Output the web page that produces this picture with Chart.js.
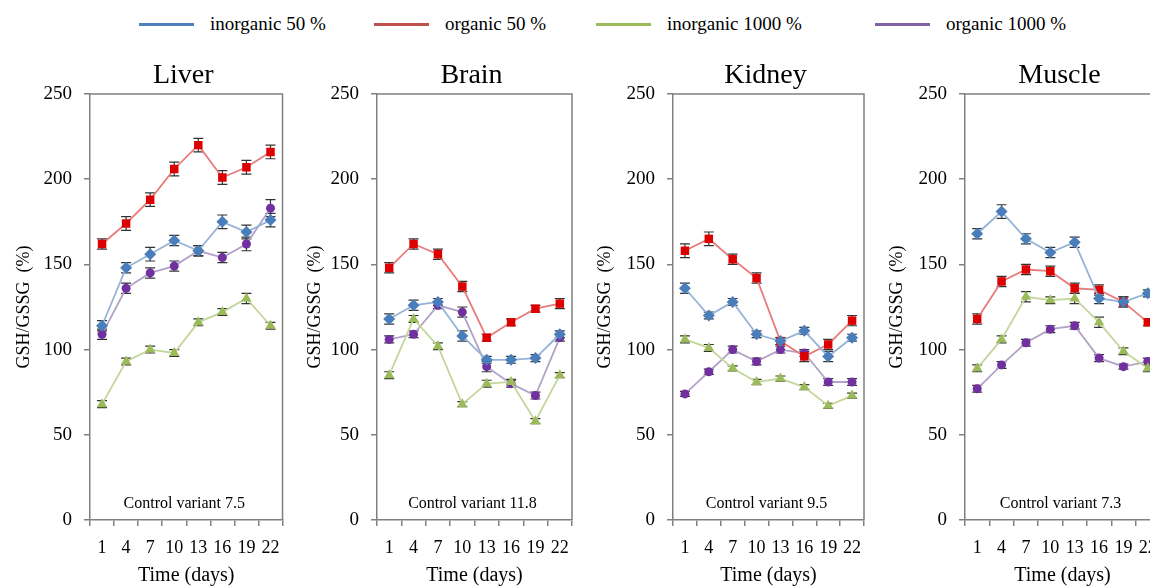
<!DOCTYPE html>
<html>
<head>
<meta charset="utf-8">
<script src="https://cdn.jsdelivr.net/npm/chart.js@4/dist/chart.umd.min.js"></script>
<style>
  html, body { margin: 0; padding: 0; background: #fff; }
  #wrap { position: relative; width: 1150px; height: 587px; overflow: hidden; background: #fff; }
  #wrap canvas { position: absolute; top: 0; }
  .leg { position: absolute; top: 12px; height: 24px; display: flex; align-items: center;
         font-family: "Liberation Serif", "Times New Roman", serif; font-size: 19px; color: #000; white-space: nowrap; }
  .leg span.sw { display: inline-block; width: 55px; height: 3px; margin-right: 16px; }
</style>
</head>
<body>
<div id="wrap"></div>
<script>
/* ================= DATA ================= */
const days = ["1", "4", "7", "10", "13", "16", "19", "22"];
const seriesNames = ["inorganic 50 %", "organic 50 %", "inorganic 1000 %", "organic 1000 %"];
const panelTitles = ["Liver", "Brain", "Kidney", "Muscle"];
const controlNotes = ["Control variant 7.5", "Control variant 11.8", "Control variant 9.5", "Control variant 7.3"];
const yTitle = "GSH/GSSG  (%)";
const xTitle = "Time (days)";

// Liver
const liverInorg50   = [114, 148, 156, 164, 158, 175, 169, 176];
const liverOrg50     = [162, 174, 188, 206, 220, 201, 207, 216];
const liverInorg1000 = [68, 93, 100, 98, 116, 122, 130, 114];
const liverOrg1000   = [109, 136, 145, 149, 158, 154, 162, 183];
const liverErrInorg50   = [3, 3, 4, 3, 3, 4, 4, 4];
const liverErrOrg50     = [3, 4, 4, 4, 4, 4, 4, 4];
const liverErrInorg1000 = [2, 2, 2, 2, 2, 2, 3, 2];
const liverErrOrg1000   = [3, 3, 3, 3, 3, 3, 4, 5];

// Brain
const brainInorg50   = [118, 126, 128, 108, 94, 94, 95, 109];
const brainOrg50     = [148, 162, 156, 137, 107, 116, 124, 127];
const brainInorg1000 = [85, 118, 102, 68, 80, 81, 58, 85];
const brainOrg1000   = [106, 109, 126, 122, 90, 80, 73, 107];
const brainErrInorg50   = [3, 3, 2, 3, 2, 2, 2, 2];
const brainErrOrg50     = [3, 3, 3, 3, 2, 2, 2, 3];
const brainErrInorg1000 = [2, 2, 2, 1.5, 2, 1.5, 1.5, 1.5];
const brainErrOrg1000   = [2, 2, 2, 3, 3, 2, 2, 2];

// Kidney
const kidneyInorg50   = [136, 120, 128, 109, 105, 111, 96, 107];
const kidneyOrg50     = [158, 165, 153, 142, 105, 96, 103, 117];
const kidneyInorg1000 = [106, 101, 89, 81, 83, 78, 67, 73];
const kidneyOrg1000   = [74, 87, 100, 93, 100, 98, 81, 81];
const kidneyErrInorg50   = [3, 2, 2, 2, 2, 2, 3, 2];
const kidneyErrOrg50     = [4, 4, 3, 3, 2, 3, 3, 3];
const kidneyErrInorg1000 = [2, 2, 1.5, 1.5, 1.5, 1.5, 1.5, 1.5];
const kidneyErrOrg1000   = [1.5, 1.5, 2, 2, 2, 2, 2, 2];

// Muscle
const muscleInorg50   = [168, 181, 165, 157, 163, 130, 128, 133];
const muscleOrg50     = [118, 140, 147, 146, 136, 135, 128, 116];
const muscleInorg1000 = [89, 106, 131, 129, 130, 116, 99, 89];
const muscleOrg1000   = [77, 91, 104, 112, 114, 95, 90, 93];
const muscleErrInorg50   = [3, 4, 3, 3, 3, 3, 3, 2];
const muscleErrOrg50     = [3, 3, 3, 3, 3, 3, 3, 2];
const muscleErrInorg1000 = [2, 2, 3, 2, 3, 3, 2, 2];
const muscleErrOrg1000   = [2, 2, 2, 2, 2, 2, 1.5, 2];

/* ================= STYLE ================= */
const SERIF = '"Liberation Serif", "Times New Roman", serif';
const AXIS = "#808080";
const legendColors = ["#4f81bd", "#c0504d", "#9bbb59", "#8064a2"];
const lineColors   = ["#95b3d7", "#e87c7c", "#c3d69b", "#b3a2c7"];
const markColors   = ["#4a7ebb", "#dd0000", "#9bbb59", "#7030a0"];
const markStyles   = ["rectRot", "rect", "triangle", "circle"];
const markRadius   = [6, 6, 6, 4.5];

// canvas placement: [left, width, yAxisWidth, rightPad]
const panelBoxes = [
    [0, 291, 90, 8],
    [291, 290, 86, 9],
    [581, 292, 92, 9],
    [873, 297, 92, 10]
];

const panelData = [
    [liverInorg50, liverOrg50, liverInorg1000, liverOrg1000],
    [brainInorg50, brainOrg50, brainInorg1000, brainOrg1000],
    [kidneyInorg50, kidneyOrg50, kidneyInorg1000, kidneyOrg1000],
    [muscleInorg50, muscleOrg50, muscleInorg1000, muscleOrg1000]
];
const panelErr = [
    [liverErrInorg50, liverErrOrg50, liverErrInorg1000, liverErrOrg1000],
    [brainErrInorg50, brainErrOrg50, brainErrInorg1000, brainErrOrg1000],
    [kidneyErrInorg50, kidneyErrOrg50, kidneyErrInorg1000, kidneyErrOrg1000],
    [muscleErrInorg50, muscleErrOrg50, muscleErrInorg1000, muscleErrOrg1000]
];

/* ================= PLUGINS ================= */
const errorBars = {
    id: "errorBars",
    beforeDatasetsDraw(chart) {
        const ctx = chart.ctx;
        const y = chart.scales.y;
        ctx.save();
        ctx.strokeStyle = "#333";
        ctx.lineWidth = 1.2;
        chart.data.datasets.forEach((ds, di) => {
            const meta = chart.getDatasetMeta(di);
            meta.data.forEach((pt, i) => {
                const e = ds.err[i];
                const yt = y.getPixelForValue(ds.data[i] + e);
                const yb = y.getPixelForValue(ds.data[i] - e);
                ctx.beginPath();
                ctx.moveTo(pt.x, yt); ctx.lineTo(pt.x, yb);
                ctx.moveTo(pt.x - 5, yt); ctx.lineTo(pt.x + 5, yt);
                ctx.moveTo(pt.x - 5, yb); ctx.lineTo(pt.x + 5, yb);
                ctx.stroke();
            });
        });
        ctx.restore();
    }
};

const frameAndText = {
    id: "frameAndText",
    afterDraw(chart, args, opts) {
        const { ctx, chartArea: a } = chart;
        ctx.save();
        ctx.strokeStyle = AXIS;
        ctx.lineWidth = 1.5;
        ctx.beginPath();
        ctx.moveTo(a.left, a.top); ctx.lineTo(a.right, a.top); ctx.lineTo(a.right, a.bottom);
        ctx.stroke();
        const cx = (a.left + a.right) / 2;
        ctx.fillStyle = "#000";
        ctx.textAlign = "center";
        ctx.textBaseline = "alphabetic";
        ctx.font = "28px " + SERIF;
        ctx.fillText(opts.title, cx - 3, 83);
        ctx.font = "16px " + SERIF;
        ctx.fillText(opts.note, cx - 2, 508);
        ctx.restore();
    }
};

/* ================= LEGEND ================= */
const wrap = document.getElementById("wrap");
const legendLefts = [139, 374, 596, 875];
seriesNames.forEach((name, i) => {
    const d = document.createElement("div");
    d.className = "leg";
    d.style.left = legendLefts[i] + "px";
    d.innerHTML = '<span class="sw" style="background:' + legendColors[i] + '"></span>' + name;
    wrap.appendChild(d);
});

/* ================= PANELS ================= */
function drawPanel(p) {
    const [left, width, yW, padR] = panelBoxes[p];
    const cv = document.createElement("canvas");
    cv.width = width; cv.height = 587;
    cv.style.left = left + "px";
    cv.style.width = width + "px"; cv.style.height = "587px";
    wrap.appendChild(cv);

    const datasets = panelData[p].map((vals, s) => ({
        label: seriesNames[s],
        data: vals,
        err: panelErr[p][s],
        borderColor: lineColors[s],
        borderWidth: 1.8,
        backgroundColor: markColors[s],
        pointBackgroundColor: markColors[s],
        pointBorderColor: markColors[s],
        pointBorderWidth: 0,
        pointStyle: markStyles[s],
        pointRadius: markRadius[s],
        tension: 0,
        fill: false
    }));

    new Chart(cv.getContext("2d"), {
        type: "line",
        data: { labels: days, datasets },
        plugins: [errorBars, frameAndText],
        options: {
            responsive: false,
            animation: false,
            devicePixelRatio: 1,
            layout: { padding: { top: 94, right: padR, left: 0, bottom: 0 } },
            plugins: {
                legend: { display: false },
                tooltip: { enabled: false },
                frameAndText: { title: panelTitles[p], note: controlNotes[p] }
            },
            scales: {
                x: {
                    type: "category",
                    offset: true,
                    grid: { offset: true, drawOnChartArea: false, tickLength: 6, color: AXIS, lineWidth: 1.5 },
                    border: { color: AXIS, width: 1.5 },
                    ticks: { color: "#000", font: { family: SERIF, size: 18 }, padding: 11, maxRotation: 0, autoSkip: false },
                    title: { display: true, text: xTitle, color: "#000", font: { family: SERIF, size: 20, lineHeight: 1.1 }, padding: { top: 0, bottom: 0 } },
                    afterFit: s => { s.height = 67; }
                },
                y: {
                    min: 0, max: 250,
                    grid: { drawOnChartArea: false, tickLength: 6, color: AXIS, lineWidth: 1.5 },
                    border: { color: AXIS, width: 1.5 },
                    ticks: { stepSize: 50, color: "#000", font: { family: SERIF, size: 19 }, padding: 12 },
                    title: { display: true, text: yTitle, color: "#000", font: { family: SERIF, size: 18 }, padding: { top: 13, bottom: 0 } },
                    afterFit: s => { s.width = yW; }
                }
            }
        }
    });
}

panelTitles.forEach((_, p) => drawPanel(p));
</script>
</body>
</html>
